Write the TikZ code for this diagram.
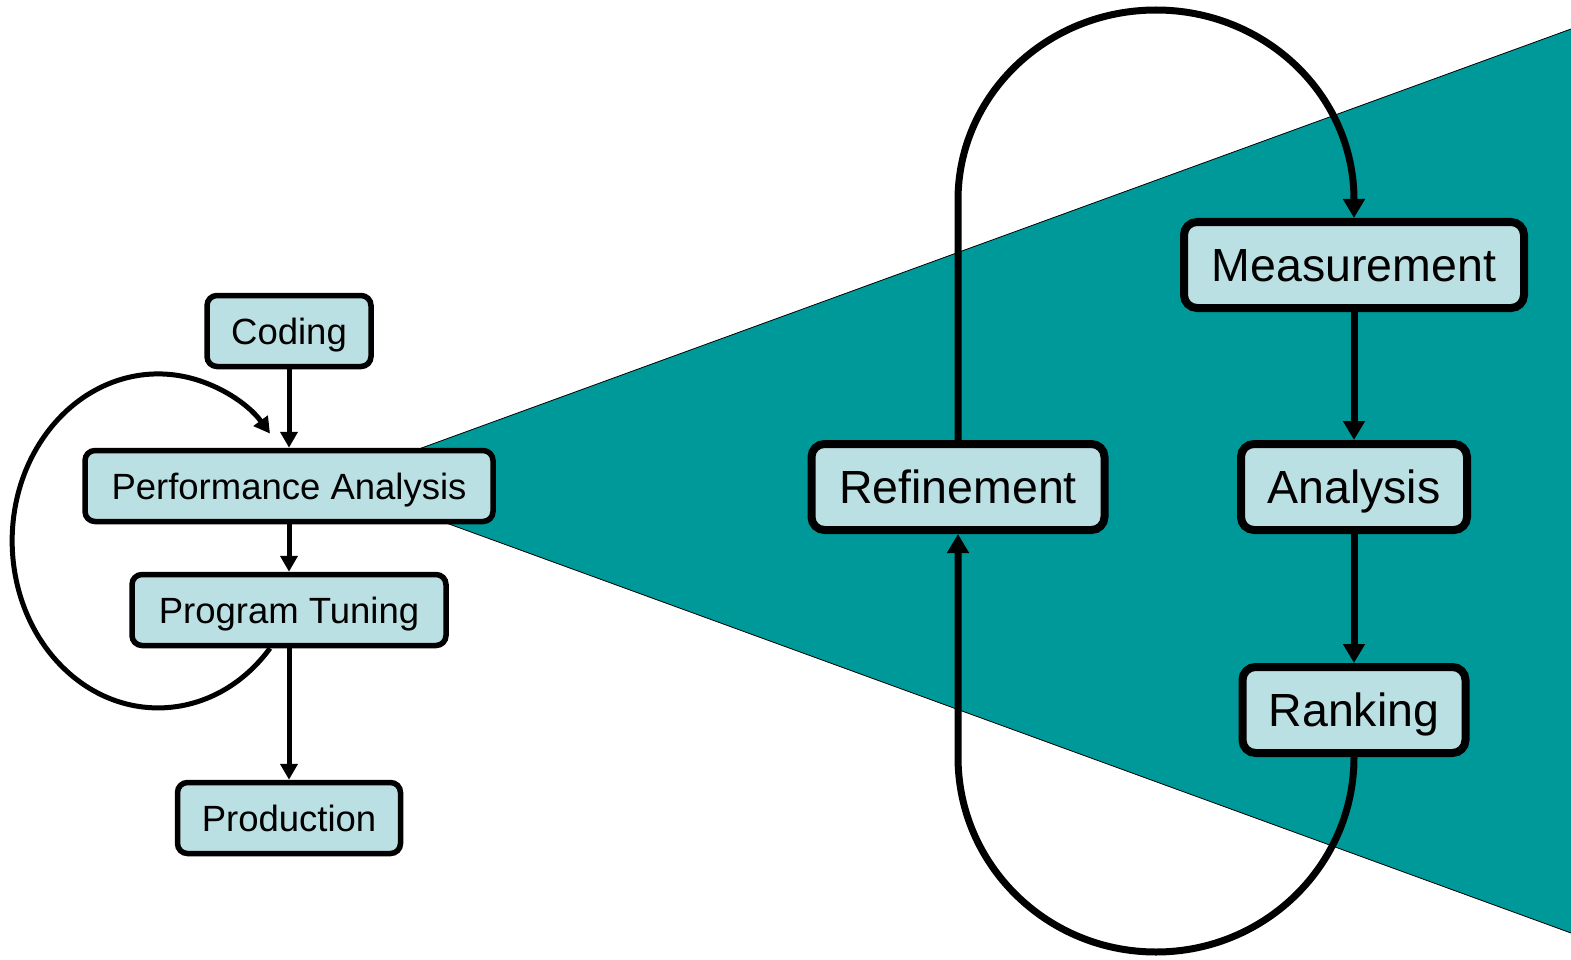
\documentclass[tikz,border=0pt]{standalone}
\usepackage{fontspec}
\setmainfont{Liberation Sans}
\usetikzlibrary{arrows.meta,calc}
\definecolor{wedgeteal}{RGB}{0,153,153}
\definecolor{boxfill}{RGB}{187,224,227}
\tikzset{
  smallbox/.style={draw=black, line width=5.5pt, fill=boxfill, rounded corners=10pt,
    minimum height=71pt, inner sep=0pt, text height=26.3pt, text depth=0pt,
    font=\fontsize{36.5}{42}\selectfont},
  bigbox/.style={draw=black, line width=8pt, fill=boxfill, rounded corners=13pt,
    minimum height=86pt, inner sep=0pt, text height=33.5pt, text depth=0pt,
    font=\fontsize{46.5}{54}\selectfont},
  link/.style={line width=5pt, -{Triangle[length=16pt,width=17pt]}},
  biglink/.style={line width=7pt, -{Triangle[length=19pt,width=21pt]}},
}
\begin{document}
\begin{tikzpicture}[x=1pt,y=1pt]
  % canvas
  \fill[white] (0,0) rectangle (1571,-960);
  \useasboundingbox (0,0) rectangle (1571,-960);

  % zoom wedge behind the detail view
  \fill[wedgeteal] (331,-481) -- (1571,-29) -- (1571,-933) -- cycle;
  \draw[line width=0.8pt] (1571,-29) -- (331,-481) -- (1571,-933);

  % overall development cycle
  \node[smallbox, minimum width=164pt] (coding) at (289,-331) {Coding};
  \node[smallbox, minimum width=408pt] (pa)     at (289,-486) {Performance Analysis};
  \node[smallbox, minimum width=314pt] (pt)     at (289,-610) {Program Tuning};
  \node[smallbox, minimum width=223pt] (prod)   at (289,-818) {Production};

  \draw[link] (coding) -- (pa);
  \draw[link] (pa) -- (pt);
  \draw[link] (pt) -- (prod);
  \draw[link] ($(pt.south)+(-19,0)$)
    arc[start angle=-40, end angle=-320, x radius=146pt, y radius=167pt];

  % detail of the performance analysis step
  \node[bigbox, minimum width=340pt] (meas) at (1354,-265) {Measurement};
  \node[bigbox, minimum width=293pt] (ref)  at (958,-487)  {Refinement};
  \node[bigbox, minimum width=226pt] (ana)  at (1354,-487) {Analysis};
  \node[bigbox, minimum width=223pt] (rank) at (1354,-710) {Ranking};

  \draw[biglink] (meas) -- (ana);
  \draw[biglink] (ana) -- (rank);
  \draw[biglink] (ref.north) -- ++(0,240)
    arc[start angle=180, end angle=0, x radius=198pt, y radius=190pt] -- (meas.north);
  \draw[biglink] (rank.south)
    arc[start angle=0, end angle=-180, x radius=198pt, y radius=195pt] -- (ref.south);
\end{tikzpicture}
\end{document}
